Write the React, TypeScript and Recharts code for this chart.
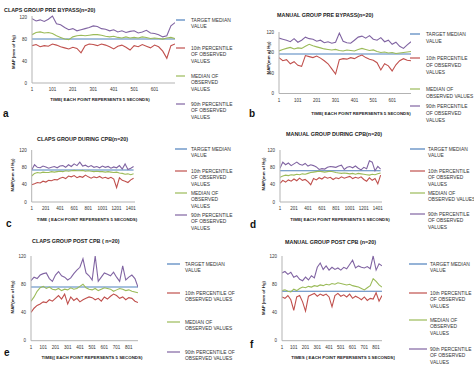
import React from 'react';
import { LineChart, Line, XAxis, YAxis } from 'recharts';

const FONT = '"Liberation Sans", Arial, sans-serif';
const COLORS = { target: '#4f81bd', p10: '#c0504d', med: '#9bbb59', p90: '#8064a2' };

function steps(start: number, end: number, step: number): number[] {
  const r: number[] = [];
  for (let v = start; v <= end; v += step) r.push(v);
  return r;
}

// ---------- time indices (each point = 5 s) ----------
const timePre = steps(1, 701, 20);
const timeCpb = steps(1, 1441, 40);
const timePostA = steps(1, 876, 25);
const timePostB = steps(1, 851, 25);

const ticksPre = [1, 101, 201, 301, 401, 501, 601];
const ticksCpb = [1, 201, 401, 601, 801, 1001, 1201, 1401];
const ticksPost = [1, 101, 201, 301, 401, 501, 601, 701, 801];
const yTicks = [0, 40, 80, 120];

// ---------- a: CLAPS pre bypass ----------
const aTarget = 80;
const aP10 = [68,70,66,68,67,71,69,66,64,62,65,63,55,68,71,70,68,71,69,66,62,67,69,65,60,68,66,70,67,64,69,66,58,45,68,71];
const aMed = [88,92,93,91,92,90,86,83,80,79,84,86,87,86,87,88,88,87,85,84,85,83,82,84,82,83,82,84,83,81,82,81,80,82,83,81];
const aP90 = [117,113,115,112,116,122,108,106,101,97,99,95,97,99,101,104,103,99,98,95,97,93,95,92,94,95,91,93,96,91,90,88,84,86,104,110];

// ---------- b: MANUAL pre bypass ----------
const bTarget = 77;
const bP10 = [70,64,66,58,62,55,53,74,72,70,73,69,64,58,48,38,66,68,67,70,68,72,75,70,67,65,60,46,58,54,44,56,64,68,65,64];
const bMed = [83,86,88,90,87,89,88,92,96,93,91,89,87,86,85,86,84,83,85,84,83,86,88,86,84,85,82,80,81,79,80,78,79,80,81,82];
const bP90 = [108,106,104,101,107,100,104,110,107,106,102,104,99,101,98,100,118,102,99,98,104,110,112,108,113,106,104,109,101,104,96,100,92,88,95,101];

// ---------- c: CLAPS during CPB ----------
const cTarget = 74;
const cP10 = [40,42,45,44,48,46,50,49,52,51,55,57,54,60,58,61,56,59,57,62,58,55,58,56,59,55,57,54,57,53,33,56,50,48,45,51,55];
const cMed = [60,66,68,67,69,68,68,70,69,70,71,70,72,71,72,73,72,72,73,71,72,71,70,71,70,70,69,70,69,68,69,67,66,64,65,63,65];
const cP90 = [74,86,80,79,83,81,78,80,82,79,83,84,80,86,82,88,84,92,83,85,81,84,80,82,79,83,80,82,78,81,79,84,76,88,75,78,82];

// ---------- d: MANUAL during CPB ----------
const dTarget = 72;
const dP10 = [43,50,46,51,48,53,49,55,50,52,47,40,54,51,56,53,58,55,57,52,56,54,58,55,57,59,54,57,55,58,52,48,56,50,54,42,62];
const dMed = [57,60,62,61,63,62,64,63,65,64,66,68,69,70,71,70,69,70,71,70,68,67,66,67,66,65,66,64,66,65,64,63,62,64,63,65,67];
const dP90 = [78,92,86,90,84,88,92,87,85,89,83,86,84,81,75,77,76,80,82,81,80,83,85,75,80,82,79,83,78,74,80,77,95,92,72,82,76];

// ---------- e: CLAPS post CPB ----------
const eTarget = 76;
const eP10 = [40,46,50,52,55,54,58,56,60,64,59,66,52,62,57,60,55,58,60,62,61,58,60,56,62,59,63,66,64,60,62,58,61,60,56,54];
const eMed = [56,62,70,75,77,74,76,73,72,74,71,73,72,75,73,74,77,80,75,73,72,74,71,73,75,74,73,70,72,74,73,71,72,70,69,68];
const eP90 = [85,90,88,93,95,96,88,84,93,98,92,90,86,89,95,100,104,116,96,92,86,120,84,90,96,94,92,97,90,84,106,86,90,93,88,76];

// ---------- f: MANUAL post CPB ----------
const fTarget = 70;
const fP10 = [62,60,64,58,43,62,64,55,42,63,65,67,63,66,64,66,62,48,64,67,63,65,62,66,60,63,61,58,62,57,60,59,68,56,64];
const fMed = [71,72,70,69,73,71,74,76,75,77,76,78,77,79,78,80,79,81,80,82,81,80,79,80,78,77,76,74,72,75,78,88,84,79,76];
const fP90 = [96,98,94,97,90,92,87,85,90,86,92,89,104,110,101,106,100,104,101,103,100,104,102,108,114,103,106,104,103,105,102,120,100,109,106];

// ---------- text ----------
const titles = [
  'CLAPS GROUP PRE BYPASS(n=20)',
  'MANUAL GROUP PRE BYPASS(n=20)',
  'CLAPS GROUP  DURING  CPB(n=20)',
  'MANUAL GROUP DURING CPB(n=20)',
  'CLAPS GROUP  POST CPB ( n=20)',
  'MANUAL GROUP POST CPB (n=20)',
];
const xTitles = [
  'TIME( EACH POINT REPERSENTS 5 SECONDS)',
  'TIME( EACH POINT REPERSENTS 5  SECONDS)',
  'TIME ( EACH POINT REPERSENTS 5 SECONDS)',
  'TIME( EACH POINT REPERSENTS 5 SECONDS)',
  'TIME(( EACH POINT REPERSENTS 5 SECONDS)',
  'TIMES ( EACH POINT REPERSENTS 5  SECONDS]',
];
const yTitles = ['MAP (mm of Hg)', 'MAP(mm of Hg)', 'MAP(mm of Hg)', 'MAP(mm of Hg)', 'MAP(mm of Hg)', 'MAP (mm of Hg)'];
const letters = ['a', 'b', 'c', 'd', 'e', 'f'];

const legendA = [['TARGET MEDIAN', 'VALUE'], ['10th PERCENTILE', 'OF OBSERVED', 'VALUES'], ['MEDIAN OF', 'OBSERVED', 'VALUES'], ['90th PERCENTILE', 'OF OBSERVED', 'VALUES']];
const legendB = [['TARGET MEDIAN', 'VALUE'], ['10th PERCENTILE', 'OF OBSERVED', 'VALUES'], ['MEDIAN OF', 'OBSERVED VALUES'], ['90th PERCENTILE', 'OF OBSERVED', 'VALUES']];
const legendE = [['TARGET MEDIAN', 'VALUE'], ['10th PERCENTILE OF', 'OBSERVED VALUES'], ['MEDIAN OF', 'OBSERVED VALUES'], ['90th PERCENTILE OF', 'OBSERVED VALUES']];
const seriesKeys = ['target', 'p10', 'med', 'p90'];

// ---------- layout (page coordinates) ----------
type Layout = {
  ox: number; oy: number; x0: number; x1: number; yt: number; yb: number;
  title: [number, number]; xTitle: [number, number]; yTitle: [number, number]; letter: [number, number];
  leg: { l1: number; l2: number; tx: number; ys: number[]; lh: number };
};

const panels = [
  { time: timePre, xMax: 701, ticks: ticksPre, target: aTarget, p10: aP10, med: aMed, p90: aP90, legend: legendA,
    L: { ox: 0, oy: 0, x0: 32, x1: 175, yt: 16, yb: 83, title: [4, 9.5], xTitle: [100, 99], yTitle: [13, 52], letter: [3, 113],
      leg: { l1: 176, l2: 185, tx: 191, ys: [20, 48, 76, 104], lh: 6.8 } } as Layout },
  { time: timePre, xMax: 701, ticks: ticksPre, target: bTarget, p10: bP10, med: bMed, p90: bP90, legend: legendB,
    L: { ox: 237, oy: 0, x0: 279, x1: 411, yt: 32, yb: 93.5, title: [277, 15], xTitle: [361, 113], yTitle: [268, 58], letter: [249, 113],
      leg: { l1: 410, l2: 420, tx: 426, ys: [34, 58, 89, 106], lh: 7 } } as Layout },
  { time: timeCpb, xMax: 1461, ticks: ticksCpb, target: cTarget, p10: cP10, med: cMed, p90: cP90, legend: legendA,
    L: { ox: 0, oy: 125, x0: 31.7, x1: 135, yt: 150, yb: 202, title: [37, 139], xTitle: [87, 219], yTitle: [12, 175], letter: [6, 223],
      leg: { l1: 175, l2: 187, tx: 191, ys: [149, 171, 193, 215], lh: 6.8 } } as Layout },
  { time: timeCpb, xMax: 1461, ticks: ticksCpb, target: dTarget, p10: dP10, med: dMed, p90: dP90, legend: legendB,
    L: { ox: 237, oy: 125, x0: 280, x1: 382, yt: 150, yb: 202, title: [286, 134], xTitle: [340, 219], yTitle: [263, 174], letter: [250, 224],
      leg: { l1: 410, l2: 425, tx: 428, ys: [149, 171, 193, 214], lh: 6.8 } } as Layout },
  { time: timePostA, xMax: 876, ticks: ticksPost, target: eTarget, p10: eP10, med: eMed, p90: eP90, legend: legendE,
    L: { ox: 0, oy: 245, x0: 31, x1: 138, yt: 256, yb: 340.7, title: [32, 241], xTitle: [92, 357], yTitle: [12, 297], letter: [4, 352],
      leg: { l1: 167, l2: 180, tx: 185, ys: [264, 293, 322, 352], lh: 6 } } as Layout },
  { time: timePostB, xMax: 851, ticks: ticksPost, target: fTarget, p10: fP10, med: fMed, p90: fP90, legend: legendA,
    L: { ox: 237, oy: 245, x0: 282, x1: 382, yt: 256, yb: 340.7, title: [285, 242], xTitle: [343, 357], yTitle: [263, 298], letter: [250, 344],
      leg: { l1: 409, l2: 427, tx: 430, ys: [264, 293, 320, 349], lh: 6.7 } } as Layout },
];

const tickStyle = { fontSize: 4.5, fill: '#333', fontFamily: FONT };
const axisStroke = { stroke: '#b3b3b3' };

function Panel({ p }: { p: (typeof panels)[number] }) {
  const L = p.L;
  const data = p.time.map((t, i) => ({ t, target: p.target, p10: p.p10[i], med: p.med[i], p90: p.p90[i] }));
  const yW = 20;
  const xH = 12;
  const right = 6;
  return (
    <div style={{ position: 'absolute', left: L.ox, top: L.oy }}>
      <LineChart
        width={L.x1 - L.ox + right}
        height={L.yb - L.oy + xH}
        data={data}
        margin={{ top: L.yt - L.oy, right, bottom: 0, left: L.x0 - L.ox - yW }}
      >
        <XAxis dataKey="t" type="number" domain={[1, p.xMax]} ticks={p.ticks} interval={0} height={xH}
          tickLine={false} tickSize={3} tickMargin={2} axisLine={axisStroke} tick={tickStyle} allowDataOverflow />
        <YAxis type="number" domain={[0, 120]} ticks={yTicks} interval={0} width={yW}
          tickLine={false} tickSize={3} tickMargin={2} axisLine={axisStroke} tick={tickStyle} />
        {seriesKeys.map((k) => (
          <Line key={k} type="linear" dataKey={k} stroke={(COLORS as any)[k]} strokeWidth={1.1}
            dot={false} activeDot={false} isAnimationActive={false} />
        ))}
      </LineChart>
    </div>
  );
}

function Overlay() {
  return (
    <svg width={474} height={367} style={{ position: 'absolute', left: 0, top: 0, pointerEvents: 'none' }}
      fontFamily={FONT}>
      {panels.map((p, i) => {
        const L = p.L;
        return (
          <g key={i}>
            <text x={L.title[0]} y={L.title[1]} fontSize={5.4} fontWeight="bold" fill="#222" dominantBaseline="central">{titles[i]}</text>
            <text x={L.xTitle[0]} y={L.xTitle[1]} fontSize={4.4} fontWeight="bold" fill="#222" textAnchor="middle" dominantBaseline="central">{xTitles[i]}</text>
            <text x={0} y={0} fontSize={4.4} fontWeight="bold" fill="#222" textAnchor="middle" dominantBaseline="central"
              transform={`translate(${L.yTitle[0]},${L.yTitle[1]}) rotate(-90)`}>{yTitles[i]}</text>
            <text x={L.letter[0]} y={L.letter[1]} fontSize={10} fontWeight="bold" fill="#111" dominantBaseline="central">{letters[i]}</text>
            {p.legend.map((lines, j) => (
              <g key={j}>
                <line x1={L.leg.l1} x2={L.leg.l2} y1={L.leg.ys[j]} y2={L.leg.ys[j]} stroke={(COLORS as any)[seriesKeys[j]]} strokeWidth={1.2} />
                {lines.map((s, k) => (
                  <text key={k} x={L.leg.tx} y={L.leg.ys[j] + k * L.leg.lh} fontSize={4.9} fill="#333" dominantBaseline="central">{s}</text>
                ))}
              </g>
            ))}
          </g>
        );
      })}
    </svg>
  );
}

export default function App() {
  return (
    <div style={{ position: 'absolute', left: 0, top: 0, width: 474, height: 367, background: '#fff', overflow: 'hidden' }}>
      {panels.map((p, i) => <Panel key={i} p={p} />)}
      <Overlay />
    </div>
  );
}
